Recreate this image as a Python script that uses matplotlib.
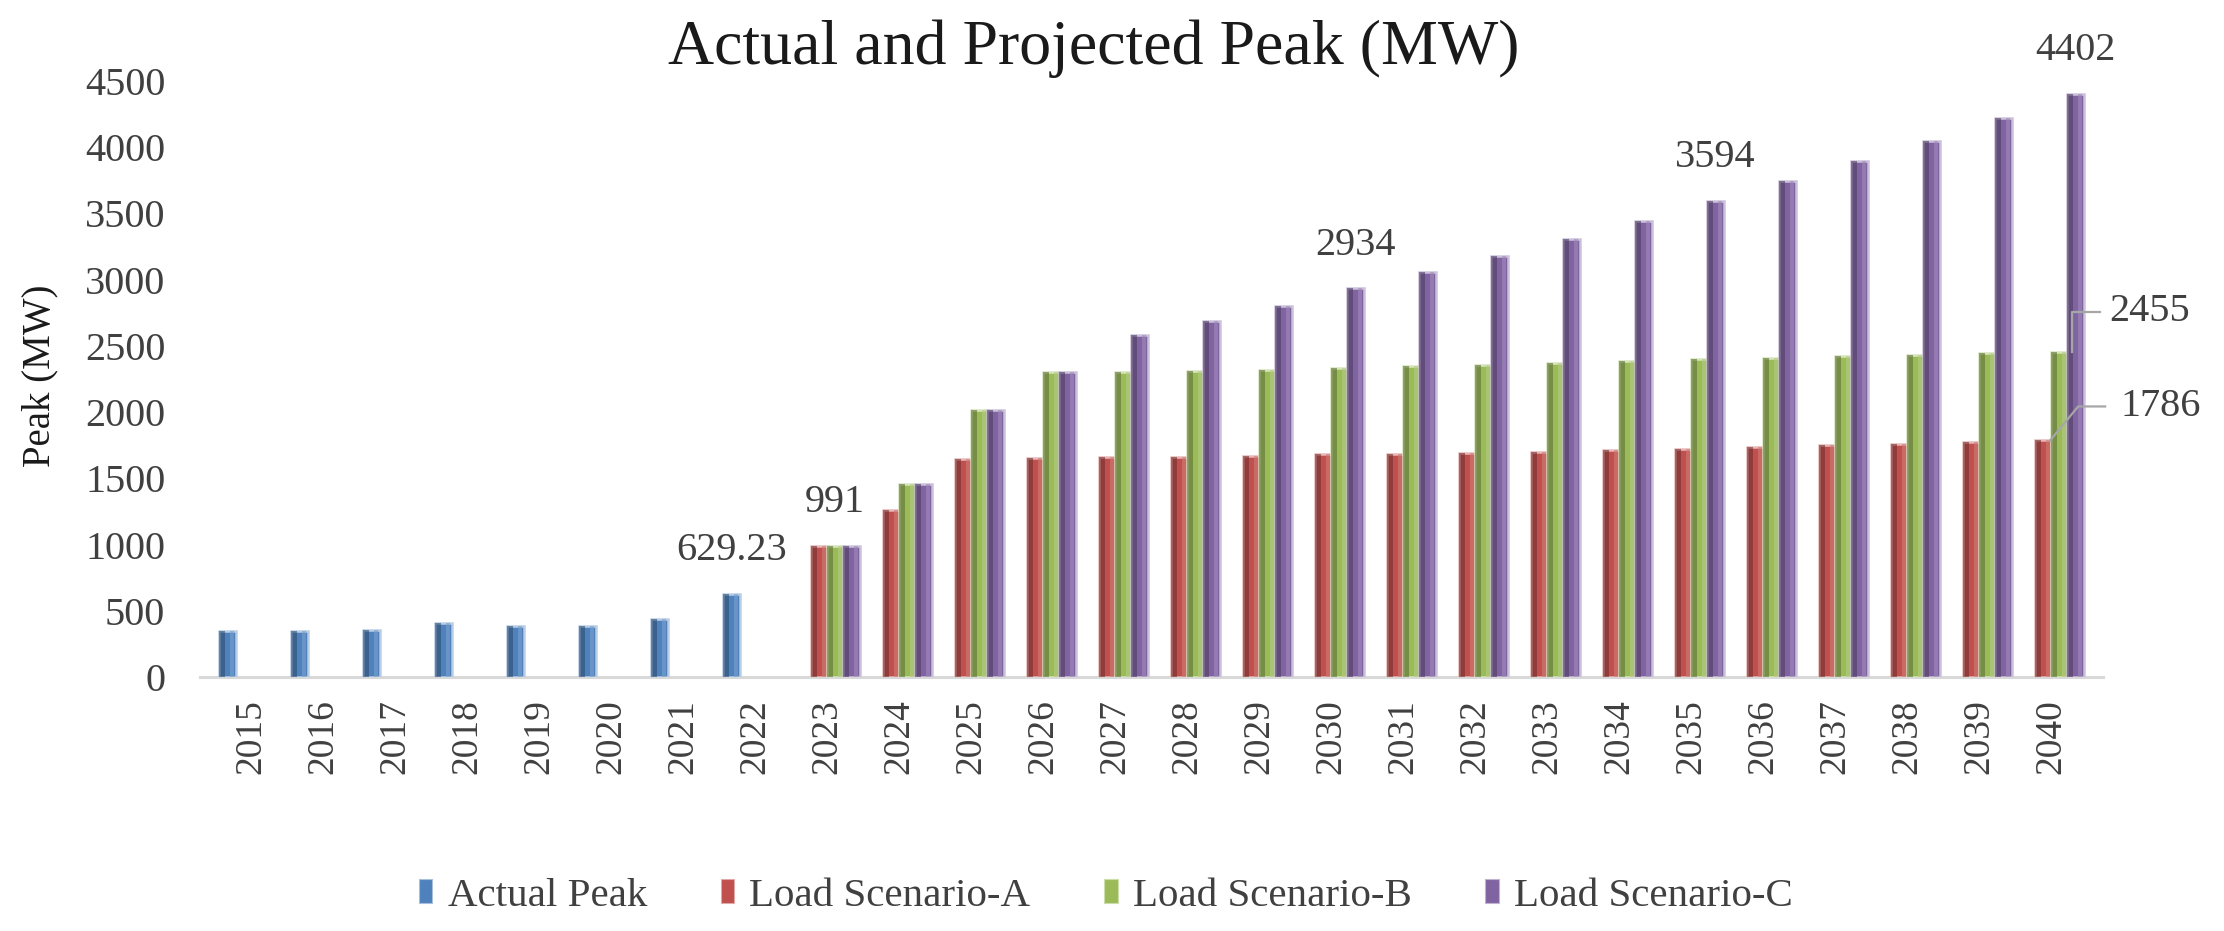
import numpy as np
import matplotlib
matplotlib.use('Agg')
import matplotlib.pyplot as plt
from matplotlib.patches import Patch
import matplotlib.colors as mcolors

# ---------------- data ----------------
years = ['2015', '2016', '2017', '2018', '2019', '2020', '2021', '2022',
         '2023', '2024', '2025', '2026', '2027', '2028', '2029', '2030',
         '2031', '2032', '2033', '2034', '2035', '2036', '2037', '2038',
         '2039', '2040']

actual_peak = [345, 345, 357, 410, 385, 382, 437, 629.23] + [None] * 18
scenario_a = [None] * 8 + [991, 1262, 1645, 1652, 1658, 1664, 1672, 1680, 1686,
                           1692, 1702, 1712, 1722, 1738, 1750, 1760, 1775, 1786]
scenario_b = [None] * 8 + [991, 1456, 2018, 2300, 2305, 2310, 2320, 2330, 2345,
                           2358, 2370, 2385, 2398, 2408, 2420, 2432, 2443, 2455]
scenario_c = [None] * 8 + [991, 1456, 2018, 2300, 2584, 2690, 2800, 2934, 3055,
                           3180, 3305, 3445, 3594, 3745, 3895, 4050, 4220, 4402]

series_names = ['Actual Peak', 'Load Scenario-A', 'Load Scenario-B', 'Load Scenario-C']
series_colors = ['#4F81BD', '#C0504D', '#9BBB59', '#8064A2']
yticks = [0, 500, 1000, 1500, 2000, 2500, 3000, 3500, 4000, 4500]

# labelled points: (year index, series index)
top_labels = [(7, 0), (8, 2), (15, 3), (20, 3), (25, 3)]

title = 'Actual and Projected Peak (MW)'
ylabel = 'Peak (MW)'

# ---------------- drawing ----------------
serif = ['Liberation Serif', 'DejaVu Serif']
plt.rcParams['font.family'] = serif

W, H = 2224, 931
fig = plt.figure(figsize=(W / 100, H / 100), dpi=100)
ax_left, ax_right, ax_bottom, ax_top = 200, 2103, 677, 81
ax = fig.add_axes([ax_left / W, 1 - ax_bottom / H,
                   (ax_right - ax_left) / W, (ax_bottom - ax_top) / H])

x = np.arange(len(years))
slot = 0.2222
bw = 0.235
all_series = [actual_peak, scenario_a, scenario_b, scenario_c]


def mix(c, other, t):
    a = np.array(mcolors.to_rgb(c))
    b = np.array(mcolors.to_rgb(other))
    return tuple(a * (1 - t) + b * t)


bar_x = []
for i, (s, col) in enumerate(zip(all_series, series_colors)):
    vals = np.array([np.nan if v is None else v for v in s], dtype=float)
    off = (i - 1.5) * slot
    xs = x + off
    bar_x.append(xs)
    ax.bar(xs, vals, width=bw, color=col, edgecolor=mix(col, 'white', 0.6),
           linewidth=1.8, zorder=2)
    ax.bar(xs - bw * 0.3, vals, width=bw * 0.32, color=mix(col, 'black', 0.4),
           alpha=0.6, linewidth=0, zorder=3)
    ax.bar(xs + bw * 0.27, vals, width=bw * 0.22, color=mix(col, 'white', 0.25),
           alpha=0.6, linewidth=0, zorder=3)

ax.set_xlim(-0.71, 25.72)
ax.set_ylim(0, 4500)
ax.set_yticks(yticks)
ax.set_yticklabels([str(t) for t in yticks])
ax.set_xticks(x)
ax.set_xticklabels(years, rotation=90)

for sp in ['top', 'right', 'left']:
    ax.spines[sp].set_visible(False)
ax.spines['bottom'].set_color('#D9D9D9')
ax.spines['bottom'].set_linewidth(2.2)
ax.spines['bottom'].set_zorder(1)
ax.tick_params(axis='y', length=0, pad=25, labelsize=29, labelcolor='#404040')
ax.tick_params(axis='x', length=0, pad=16, labelsize=27, labelcolor='#404040')

# data labels above bars
for (yi, si) in top_labels:
    v = all_series[si][yi]
    ax.annotate(f'{v:g}', xy=(bar_x[si][yi], v), xytext=(0, 31),
                textcoords='offset points', ha='center', va='center',
                fontsize=29, color='#404040', zorder=5)

# leader-line labels for the last year
ppx = (ax_right - ax_left) / (25.72 + 0.71)   # pixels per x unit
ppy = (ax_bottom - ax_top) / 4500.0           # pixels per y unit
lead_col = '#A6A6A6'

# Scenario-B 2040
yi = 25
vb = scenario_b[yi]
xb = bar_x[2][yi] + 13 / ppx
yb2 = vb + 40 / ppy
ax.plot([xb, xb, xb + 28 / ppx], [vb, yb2, yb2], color=lead_col, lw=1.6,
        clip_on=False, zorder=6)
ax.text(xb + 37 / ppx, yb2, f'{vb:g}', ha='left', va='center', fontsize=29,
        color='#404040', clip_on=False)

# Scenario-A 2040
va_ = scenario_a[yi]
xa = bar_x[1][yi] + 7 / ppx
ya2 = va_ + 34 / ppy
ax.plot([xa, xa + 28 / ppx, xa + 55 / ppx], [va_, ya2, ya2], color=lead_col,
        lw=1.6, clip_on=False, zorder=6)
ax.text(xa + 70 / ppx, ya2, f'{va_:g}', ha='left', va='center', fontsize=29,
        color='#404040', clip_on=False)

# title, y label
fig.text(1094 / W, 1 - 64 / H, title, ha='center', va='baseline',
         fontsize=46, color='#1a1a1a')
fig.text(40 / W, 1 - 376 / H, ylabel, ha='center', va='center', rotation=90,
         fontsize=28, color='#1a1a1a')

# legend
handles = [Patch(facecolor=c, edgecolor=mix(c, 'white', 0.5), linewidth=0.8)
           for c in series_colors]
fig.legend(handles, series_names, loc='center', bbox_to_anchor=(1106 / W, 1 - 896 / H),
           ncol=4, frameon=False, fontsize=29.5, handlelength=0.33, handleheight=0.5,
           handletextpad=0.37, columnspacing=1.8, labelcolor='#404040')

fig.savefig('out.png', dpi=100)
